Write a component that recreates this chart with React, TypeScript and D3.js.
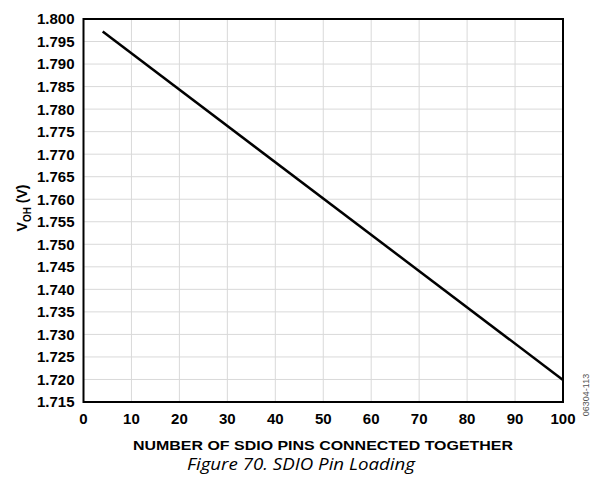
import React from "react";
import * as d3 from "d3";

const pinCounts = [4, 100];
const vohValues = [1.7972, 1.7199];
const xTicks = [0, 10, 20, 30, 40, 50, 60, 70, 80, 90, 100];
const yTicks = d3.range(0, 18).map((i) => +(1.715 + i * 0.005).toFixed(3));

const W = 592;
const H = 479;
const M = { left: 83.5, right: 563, top: 19, bottom: 402 };

export default function App() {
  const x = d3.scaleLinear().domain([0, 100]).range([M.left, M.right]);
  const y = d3.scaleLinear().domain([1.715, 1.8]).range([M.bottom, M.top]);
  const data = pinCounts.map((p, i) => [p, vohValues[i]] as [number, number]);
  const line = d3
    .line<[number, number]>()
    .x((d) => x(d[0]))
    .y((d) => y(d[1]));
  const font = "Liberation Sans, Arial, sans-serif";
  return (
    <svg
      width={W}
      height={H}
      style={{ position: "absolute", left: 0, top: 0, background: "#fff" }}
    >
      {xTicks.slice(1, -1).map((t) => (
        <line key={"gx" + t} x1={x(t)} x2={x(t)} y1={M.top} y2={M.bottom} stroke="#d9d9d9" strokeWidth={1} />
      ))}
      {yTicks.slice(1, -1).map((t) => (
        <line key={"gy" + t} x1={M.left} x2={M.right} y1={y(t)} y2={y(t)} stroke="#d9d9d9" strokeWidth={1} />
      ))}
      <path d={line(data) || ""} fill="none" stroke="#000" strokeWidth={2.5} />
      <rect
        x={M.left}
        y={M.top}
        width={M.right - M.left}
        height={M.bottom - M.top}
        fill="none"
        stroke="#000"
        strokeWidth={2}
      />
      {yTicks.map((t) => (
        <text
          key={"ty" + t}
          x={M.left - 9}
          y={y(t)}
          dy="0.36em"
          textAnchor="end"
          fontFamily={font}
          fontWeight="bold"
          fontSize={15}
          fill="#000"
        >
          {d3.format(".3f")(t)}
        </text>
      ))}
      {xTicks.map((t) => (
        <text
          key={"tx" + t}
          x={x(t)}
          y={424}
          textAnchor="middle"
          fontFamily={font}
          fontWeight="bold"
          fontSize={15}
          fill="#000"
        >
          {t}
        </text>
      ))}
      <text
        x={133}
        y={450}
        textLength={380}
        lengthAdjust="spacingAndGlyphs"
        fontFamily={font}
        fontWeight="bold"
        fontSize={13.5}
        fill="#000"
      >
        NUMBER OF SDIO PINS CONNECTED TOGETHER
      </text>
      <text
        x={187}
        y={470}
        textLength={228}
        lengthAdjust="spacingAndGlyphs"
        fontFamily="Open Sans, Liberation Sans, sans-serif"
        fontStyle="italic"
        fontSize={16}
        fill="#000"
      >
        Figure 70. SDIO Pin Loading
      </text>
      <text
        transform={`translate(27, ${208}) rotate(-90)`}
        textAnchor="middle"
        fontFamily={font}
        fontWeight="bold"
        fontSize={14}
        fill="#000"
      >
        V<tspan fontSize={10} dy={4}>OH</tspan>
        <tspan dy={-4}> (V)</tspan>
      </text>
      <text
        transform={`translate(589, ${395}) rotate(-90)`}
        textAnchor="middle"
        fontFamily={font}
        fontSize={9}
        fill="#555"
      >
        06304-113
      </text>
    </svg>
  );
}
